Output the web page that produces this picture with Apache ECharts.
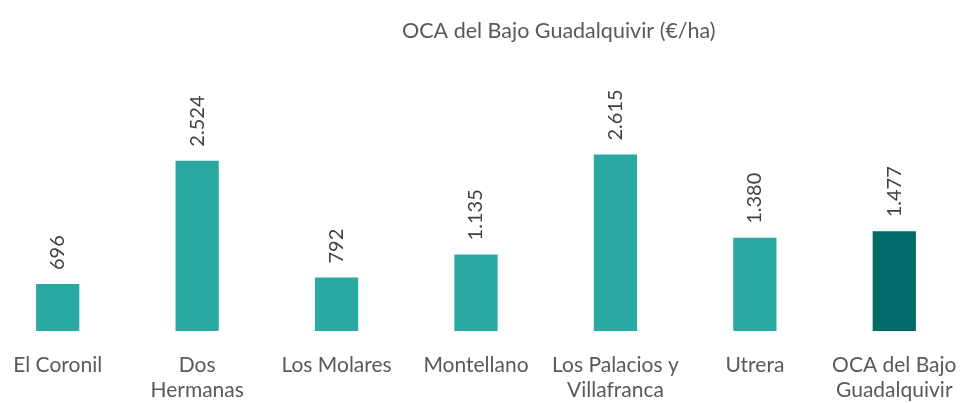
<!DOCTYPE html>
<html>
<head>
<meta charset="utf-8">
<script src="https://cdn.jsdelivr.net/npm/echarts@6/dist/echarts.min.js"></script>
<style>html,body{margin:0;padding:0;background:#fff;}#c{width:961px;height:403px;}</style>
</head>
<body>
<div id="c"></div>
<script>
const categories = ['El Coronil', 'Dos\nHermanas', 'Los Molares', 'Montellano', 'Los Palacios y\nVillafranca', 'Utrera', 'OCA del Bajo\nGuadalquivir'];
const values = [696, 2524, 792, 1135, 2615, 1380, 1477];
const titleText = 'OCA del Bajo Guadalquivir (€/ha)';

const chart = echarts.init(document.getElementById('c'));
const fmt = v => v.toLocaleString('de-DE');
chart.setOption({
  animation: false,
  title: {
    text: titleText, left: 397, top: 15,
    textStyle: { fontFamily: 'Lato', fontSize: 21.5, fontWeight: 'normal', color: '#595959' }
  },
  grid: { left: -12, width: 976, top: 61, bottom: 72, outerBoundsMode: 'none', containLabel: false },
  xAxis: {
    type: 'category', data: categories,
    axisLine: { show: false }, axisTick: { show: false },
    axisLabel: { interval: 0, margin: 22, fontFamily: 'Lato', fontSize: 21, color: '#595959', lineHeight: 25 }
  },
  yAxis: { type: 'value', min: 0, max: 4000, show: false, splitLine: { show: false } },
  series: [{
    type: 'bar', barWidth: '31%',
    data: values.map((v, i) => ({ value: v, itemStyle: { color: i === values.length - 1 ? '#016a68' : '#2aa8a2' } })),
    label: {
      show: true, position: 'top', rotate: 90, align: 'left', verticalAlign: 'middle', distance: 14,
      fontFamily: 'Lato', fontSize: 20, color: '#404040',
      formatter: p => fmt(p.value)
    }
  }]
});
</script>
</body>
</html>
